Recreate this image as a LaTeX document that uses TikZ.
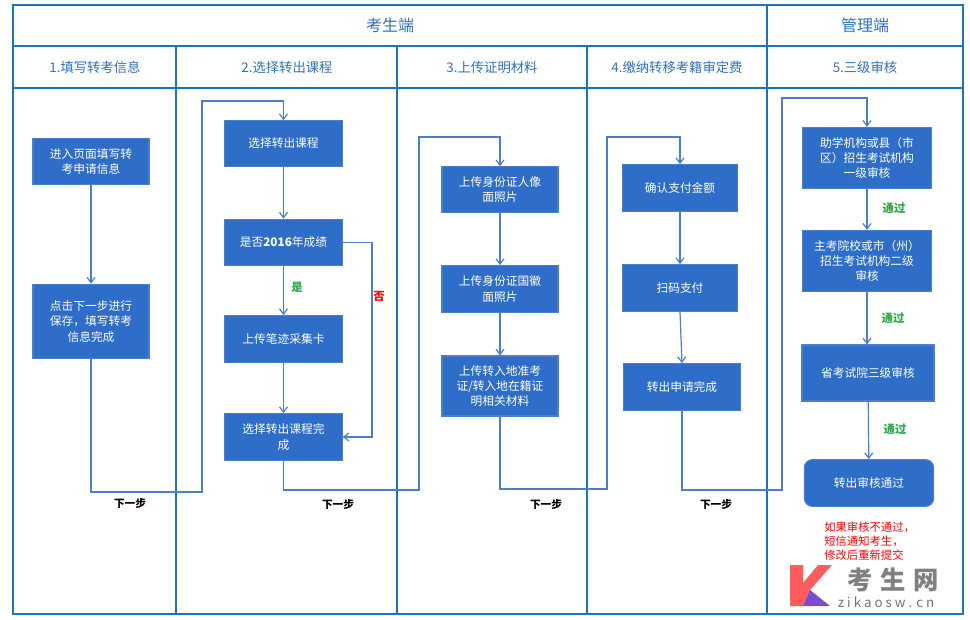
\documentclass[tikz,border=0pt]{standalone}
\usepackage{fontspec}
\setmainfont{Noto Sans CJK SC}
\usetikzlibrary{arrows.meta}
\definecolor{bx}{HTML}{2F6EC8}
\definecolor{ln}{HTML}{4A7FD0}
\definecolor{fr}{HTML}{1B75BC}
\definecolor{hd}{HTML}{2F72BE}
\definecolor{gr}{HTML}{2AA84A}
\begin{document}
\begin{tikzpicture}[x=0.75pt,y=-0.75pt,
 box/.style={fill=bx,draw=ln,line width=0.8pt,text=white,font=\fontsize{8.8}{11.5}\selectfont,align=center,inner sep=0pt},
 con/.style={ln,line width=0.9pt,-{Straight Barb[length=4pt,width=6pt]}},
 hdr/.style={text=hd,font=\fontsize{10}{12}\selectfont},
 nx/.style={font=\bfseries\fontsize{8}{10}\selectfont},
 ok/.style={text=gr,font=\bfseries\fontsize{8.5}{10}\selectfont}]
\useasboundingbox (0,0) rectangle (970,620);
\fill[white] (0,0) rectangle (970,620);
% frame
\draw[fr,line width=1.3pt] (13,5) rectangle (963,614);
\draw[fr,line width=1.3pt] (13,46) -- (963,46) (13,88) -- (963,88);
\draw[fr,line width=1.3pt] (767,5) -- (767,614);
\foreach \x in {176,397,587} \draw[fr,line width=1.3pt] (\x,46) -- (\x,614);
\node[text=hd,font=\fontsize{12}{14}\selectfont] (t1) at (390,25) {考生端};
\node[text=hd,font=\fontsize{12}{14}\selectfont] (t2) at (865,25) {管理端};
\node[hdr] (h1) at (95,67) {1.填写转考信息};
\node[hdr] (h2) at (287,67) {2.选择转出课程};
\node[hdr] (h3) at (492,67) {3.上传证明材料};
\node[hdr] (h4) at (677,67) {4.缴纳转移考籍审定费};
\node[hdr] (h5) at (865,67) {5.三级审核};
% boxes
\node[box,minimum width=87pt,minimum height=35pt] (A1) at (91,161.5) {进入页面填写转\\考申请信息};
\node[box,minimum width=87pt,minimum height=56pt] (A2) at (91,321.5) {点击下一步进行\\保存，填写转考\\信息完成};
\node[box,minimum width=88pt,minimum height=34pt] (B1) at (283.5,143.5) {选择转出课程};
\node[box,minimum width=88pt,minimum height=35pt] (B2) at (283.5,242.5) {是否\textbf{2016}年成绩};
\node[box,minimum width=88pt,minimum height=35pt] (B3) at (283.5,339) {上传笔迹采集卡};
\node[box,minimum width=88pt,minimum height=35pt] (B4) at (283.5,437) {选择转出课程完\\成};
\node[box,minimum width=87pt,minimum height=34pt] (C1) at (500,189.5) {上传身份证人像\\面照片};
\node[box,minimum width=87pt,minimum height=35pt] (C2) at (500,289) {上传身份证国徽\\面照片};
\node[box,minimum width=87pt,minimum height=45pt] (C3) at (500,386) {上传转入地准考\\证/转入地在籍证\\明相关材料};
\node[box,minimum width=86pt,minimum height=35pt] (D1) at (680,188) {确认支付金额};
\node[box,minimum width=86pt,minimum height=35pt] (D2) at (680,288) {扫码支付};
\node[box,minimum width=88pt,minimum height=35pt] (D3) at (682,387) {转出申请完成};
\node[box,minimum width=97pt,minimum height=46pt] (E1) at (867,158) {助学机构或县（市\\区）招生考试机构\\一级审核};
\node[box,minimum width=97pt,minimum height=46pt] (E2) at (867,261) {主考院校或市（州）\\招生考试机构二级\\审核};
\node[box,minimum width=99pt,minimum height=42pt] (E3) at (868,373) {省考试院三级审核};
\node[box,rounded corners=6pt,minimum width=97pt,minimum height=35pt] (E4) at (869,483) {转出审核通过};
% straight connectors
\draw[con] (A1) -- (A2);
\draw[con] (B1) -- (B2);
\draw[con] (B2) -- (B3);
\draw[con] (B3) -- (B4);
\draw[con] (C1) -- (C2);
\draw[con] (C2) -- (C3);
\draw[con] (D1) -- (D2);
\draw[con] (D2.south) -- (D3.north);
\draw[con] (E1) -- (E2);
\draw[con] (E2.south) -- (E3.north -| E2.south);
\draw[con] (E3) -- (E4);
\draw[con] (B2.east) -- (372,242.5) -- (372,437) -- (B4.east);
% loops
\coordinate (p1) at (91,492); \coordinate (p2) at (202,492); \coordinate (p3) at (202,101);
\draw[con] (A2.south) -- (p1) -- (p2) -- (p3) -- (p3 -| B1.north) -- (B1.north);
\coordinate (q1) at (283.5,490); \coordinate (q2) at (419,490); \coordinate (q3) at (419,137);
\draw[con] (B4.south) -- (q1) -- (q2) -- (q3) -- (q3 -| C1.north) -- (C1.north);
\coordinate (r1) at (500,489); \coordinate (r2) at (607,489); \coordinate (r3) at (607,137);
\draw[con] (C3.south) -- (r1) -- (r2) -- (r3) -- (r3 -| D1.north) -- (D1.north);
\coordinate (s1) at (682,490); \coordinate (s2) at (782,490); \coordinate (s3) at (782,98);
\draw[con] (D3.south) -- (s1) -- (s2) -- (s3) -- (s3 -| E1.north) -- (E1.north);
% labels
\node[nx] (n1) at (130,503) {下一步};
\node[nx] (n2) at (338,504) {下一步};
\node[nx] (n3) at (546,504) {下一步};
\node[nx] (n4) at (716,504) {下一步};
\node[ok] (y1) at (297,287) {是};
\node[text=red,font=\bfseries\fontsize{8.5}{10}\selectfont] (no) at (379,296) {否};
\node[ok] (o1) at (894,208) {通过};
\node[ok] (o2) at (893,318) {通过};
\node[ok] (o3) at (895,429) {通过};
\node[text=red,align=left,font=\fontsize{8.5}{10.5}\selectfont,anchor=north west,inner sep=0pt] (rt) at (824,522) {如果审核不通过，\\短信通知考生，\\修改后重新提交};
% logo
\fill[red!70!white,opacity=0.9] (790,565) -- (803,565) -- (803,583) -- (818,565) -- (832,565) -- (810,590) -- (803,606) -- (790,606) -- cycle;
\fill[blue!50!violet!70!white] (810,590) -- (830,606) -- (803,606) -- cycle;
\node[text=black!50,font=\bfseries\fontsize{19}{21}\selectfont] (lg) at (893,580) {考\hspace{6pt}生\hspace{6pt}网};
\node[text=black!55,font=\fontsize{10}{12}\selectfont] (lu) at (886,602) {z i k a o s w . c n};
\end{tikzpicture}
\end{document}
